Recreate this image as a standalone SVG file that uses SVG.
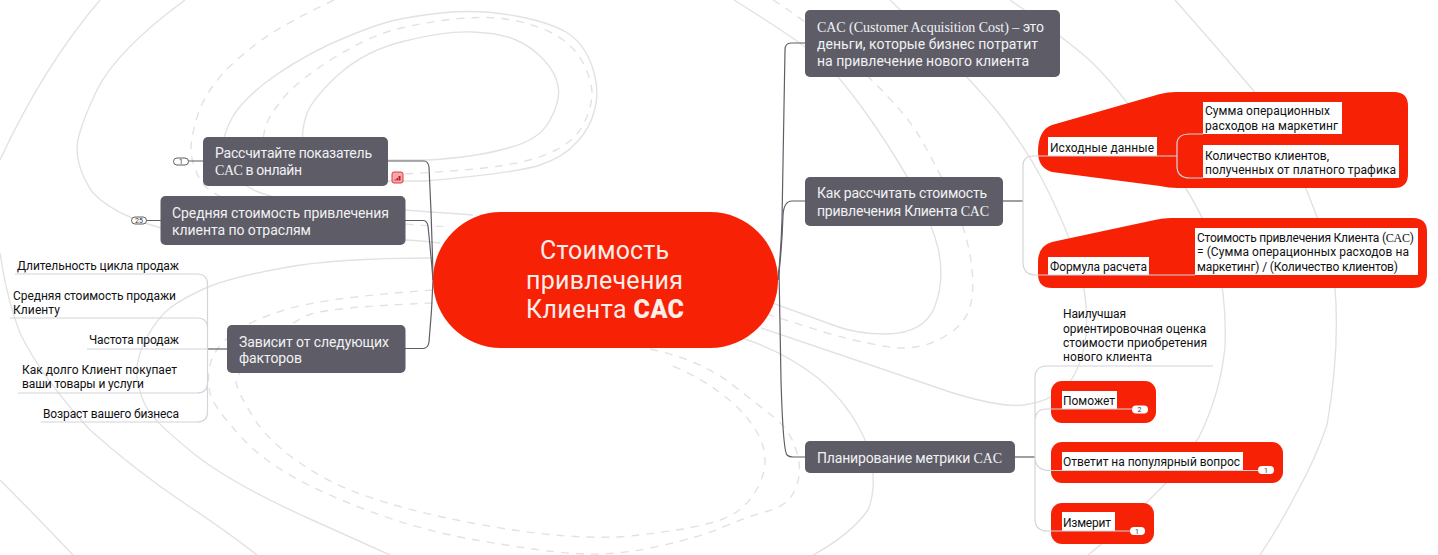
<svg xmlns="http://www.w3.org/2000/svg" width="1438" height="555" viewBox="0 0 1438 555">
<style>
text{font-family:Roboto,"Noto Sans",sans-serif}
.bg{fill:none;stroke:#e2e2e2;stroke-width:1.4}
.dash{stroke-dasharray:8 7}
.dark{fill:none;stroke:#5f5e67;stroke-width:1.2}
.light{fill:none;stroke:#d4d4dc;stroke-width:1.2}
.box{fill:#5e5d67}
.red{fill:#f72205}
.wt{fill:#fff}
.nt{font-size:14px;fill:#f1f1f3}
.lb{font-size:12px;fill:#111}
.lat{font-family:"Liberation Serif",serif}
.cnt{font-size:25px;fill:#fdeeea}
.bub{font-size:7px;fill:#333;text-anchor:middle}
.pill{fill:#fff}
.pillo{fill:#fff;stroke:#5f5e67;stroke-width:1}
</style>
<rect width="1438" height="555" fill="#fff"/>
<g id="background">
<path class="bg" d="M388,160 L428,160 Q477,157 508,148 Q540,140 550,120 Q561,100 558,86 Q556,73 544,60 Q532,47 516,40 Q500,33 472,32 Q445,31 405,41 Q366,50 338,75 Q311,100 306,116 Q301,133 303,146"/>
<path class="bg dash" d="M405,174 Q477,170 506,165 Q536,160 556,150 Q576,140 584,123 Q592,107 592,93 Q592,80 582,61 Q572,43 550,32 Q528,22 506,19 Q485,16 453,19 Q421,23 393,30 Q366,38 332,59 Q299,80 285,96 Q271,113 267,123 Q263,133 263,145"/>
<path class="bg" d="M388,181 L425,181 Q516,173 540,165 Q564,157 577,142 Q591,127 595,108 Q600,90 592,66 Q584,43 566,32 Q548,22 516,16 Q485,10 451,12 Q417,15 391,21 Q366,28 328,45 Q291,63 265,83 Q240,103 232,118 Q224,133 223,144 Q222,155 228,167 Q235,180 250,188 Q265,197 302,202 Q340,207 373,208 Q407,210 473,215"/>
<path class="bg dash" d="M334,0 Q300,16 275,31 Q250,47 228,68 Q207,90 199,111 Q192,133 191,146 Q190,160 200,180 Q215,205 300,216 Q370,222 450,227"/>
<path class="bg" d="M185,0 Q117,50 97,90 Q78,130 77,147 Q77,170 93,193 Q108,208 130,217 Q165,232 200,236 Q300,242 407,240 Q425,241 440,243"/>
<path class="bg" d="M100,0 Q43,67 0,160"/>
<path class="bg" d="M0,253 Q7,300 20,333 Q40,375 90,430 Q135,470 184,503 Q225,530 257,555"/>
<path class="bg" d="M0,480 Q35,515 73,555"/>
<path class="bg" d="M433,258 Q333,258 283,268 Q233,277 208,287 Q183,298 170,308 Q157,318 146,339 Q135,360 137,378 Q140,397 148,410 Q156,423 193,453 Q230,483 310,519 Q350,537 390,555"/>
<path class="bg dash" d="M433,290 Q333,297 291,308 Q250,320 231,335 Q213,350 210,365 Q207,380 210,393 Q213,407 244,440 Q275,473 344,501 Q413,530 482,541 Q551,553 585,554 Q620,555 660,546 Q700,537 723,527 Q747,517 768,511 Q790,505 796,487 Q803,470 796,450 Q790,430 775,418 Q761,407 730,383 Q700,360 650,349"/>
<path class="bg dash" d="M433,303 Q333,307 311,314 Q290,322 263,347 Q237,373 236,381 Q236,390 255,420 Q275,450 321,476 Q367,503 472,523 Q578,543 639,535 Q700,528 723,519 Q747,510 759,485 Q771,460 759,436 Q747,413 723,395 Q700,377 670,365"/>
<path class="bg" d="M734,0 Q803,43 823,61 Q843,80 873,123 Q903,167 918,197 Q933,227 938,248 Q945,280 935,306 Q925,333 887,334 Q855,334 833,325 L745,293"/>
<path class="bg dash" d="M773,0 Q805,20 837,48 Q870,77 891,100 Q913,123 926,148 Q940,173 952,200 Q965,227 970,255 Q975,283 971,303 Q967,323 947,335 Q927,348 902,348 Q877,347 827,333 L760,312"/>
<path class="bg" d="M890,0 Q970,77 1000,115 Q1030,153 1050,195 Q1070,237 1078,263 Q1089,300 1086,335 Q1081,373 1064,388 Q1048,402 1024,405 Q1001,408 950,392 Q900,375 761,328"/>
<path class="bg" d="M1010,0 Q1060,35 1086,57 Q1113,80 1160,148 Q1207,217 1216,253 Q1227,300 1225,347 Q1220,395 1199,437 Q1180,465 1166,483 Q1120,530 1088,555"/>
<path class="bg" d="M1175,0 Q1215,45 1253,90 Q1295,155 1317,217 Q1332,255 1335,288 Q1340,350 1327,425 Q1315,460 1297,492 Q1280,525 1260,555"/>
<path class="bg" d="M742,338 Q785,352 818,378 Q850,405 865,440 Q880,480 868,510 Q850,535 813,555"/>
</g>
<g id="connectors">
<path class="dark" d="M388,161 H424 Q428,161 429,167 Q432,225 433,280"/>
<path class="dark" d="M405,220.500 H423 Q427,220.500 428,226 Q431,255 433,280"/>
<path class="dark" d="M405,348.500 H423 Q428,348.500 429,342 Q432,310 433,280"/>
<path class="dark" d="M778,280 Q781,250 782,220 L785,50 Q785,43 791,43 H805"/>
<path class="dark" d="M778,280 Q782,250 783,215 Q784,201 792,201 H805"/>
<path class="dark" d="M779,270 L781,380 Q783,450 787,455 Q789,457 793,457 H805"/>
<path class="dark" d="M188,161 H203 M146,220.500 H161"/>
<path class="dark" d="M1003,201 H1023"/>
<path class="dark" d="M1015,457 H1035"/>
<path class="dark" d="M207,349 H227"/>
</g>
<g id="node-center">
<rect class="red" x="433" y="212" width="345" height="136" rx="68"/>
<text class="cnt" x="540" y="259" textLength="129">Стоимость</text>
<text class="cnt" x="526" y="289" textLength="157">привлечения</text>
<text class="cnt" x="526" y="318" textLength="158">Клиента <tspan font-weight="900">CAC</tspan></text>
</g>
<g id="node-online">
<rect class="box" x="203" y="137" width="185" height="49" rx="5"/>
<text class="nt" x="215" y="158" textLength="157">Рассчитайте показатель</text>
<text class="nt" x="215" y="175" textLength="87"><tspan class="lat">CAC</tspan> в онлайн</text>
<rect class="pillo" x="173.500" y="158" width="15" height="7" rx="3.500"/>
<text class="bub" x="181" y="164">1</text>
<rect x="392" y="172" width="11" height="11" rx="2" fill="#f6a9ad" stroke="#e0393f"/>
<path d="M394.500,179.500 h1.500 v1 h-1.500 z M396.500,178 h1.500 v2.500 h-1.500 z M398.500,176 h2 v4.500 h-2 z" fill="#b51c24"/>
</g>
<g id="node-industries">
<rect class="box" x="160.500" y="196" width="245" height="49" rx="5"/>
<text class="nt" x="172" y="218" textLength="217">Средняя стоимость привлечения</text>
<text class="nt" x="172" y="235" textLength="139">клиента по отраслям</text>
<rect class="pillo" x="131.500" y="217" width="15" height="7" rx="3.500"/>
<text class="bub" x="139" y="223">25</text>
</g>
<g id="node-factors">
<rect class="box" x="227" y="325" width="178.500" height="48" rx="5"/>
<text class="nt" x="239" y="347" textLength="150">Зависит от следующих</text>
<text class="nt" x="239" y="363" textLength="63">факторов</text>
</g>
<g id="factors-items">
<path class="light" d="M15,274 H197 Q207.500,274 207.500,284 V412 Q207.500,422 197,422 H41 M10,318 H197 Q207.500,318 207.500,328 M87,349 H207 M18,393 H197 Q207.500,393 207.500,383"/>
<text class="lb" x="17" y="270" textLength="162">Длительность цикла продаж</text>
<text class="lb" x="13" y="300" textLength="163">Средняя стоимость продажи</text>
<text class="lb" x="13" y="314" textLength="47">Клиенту</text>
<text class="lb" x="89" y="344" textLength="90">Частота продаж</text>
<text class="lb" x="22" y="374" textLength="155">Как долго Клиент покупает</text>
<text class="lb" x="22" y="388" textLength="122">ваши товары и услуги</text>
<text class="lb" x="43" y="418" textLength="136">Возраст вашего бизнеса</text>
</g>
<g id="node-definition">
<rect class="box" x="805" y="10" width="255" height="67" rx="5"/>
<text class="nt" x="817" y="32" textLength="227"><tspan class="lat">CAC (Customer Acquisition Cost) –</tspan> это</text>
<text class="nt" x="817" y="49" textLength="221">деньги, которые бизнес потратит</text>
<text class="nt" x="817" y="66" textLength="212">на привлечение нового клиента</text>
</g>
<g id="node-calc">
<rect class="box" x="805" y="177" width="198" height="49" rx="5"/>
<text class="nt" x="817" y="198" textLength="170">Как рассчитать стоимость</text>
<text class="nt" x="817" y="216" textLength="172">привлечения Клиента <tspan class="lat">CAC</tspan></text>
</g>
<g id="node-source">
<path class="red" d="M1038,152 Q1038,130 1052,125 L1160,94 Q1168,92 1176,92 H1394 Q1408,92 1408,106 V174 Q1408,188 1394,188 H1178 Q1168,188 1160,186 L1052,172 Q1038,168 1038,152 Z"/>
<rect class="wt" x="1048" y="137" width="109" height="19"/>
<rect class="wt" x="1203" y="102" width="139" height="32"/>
<rect class="wt" x="1203" y="145" width="196" height="33"/>
<path class="light" d="M1023,201 V166 Q1023,156 1033,156 H1177 M1177,156 V144 Q1177,134 1190,134 H1203 M1177,156 V166 Q1177,178 1190,178 H1203"/>
<text class="lb" x="1050" y="152" textLength="104">Исходные данные</text>
<text class="lb" x="1205" y="115" textLength="125">Сумма операционных</text>
<text class="lb" x="1205" y="130" textLength="133">расходов на маркетинг</text>
<text class="lb" x="1205" y="160" textLength="124">Количество клиентов,</text>
<text class="lb" x="1205" y="174" textLength="191">полученных от платного трафика</text>
</g>
<g id="node-formula">
<path class="red" d="M1038,262 Q1038,246 1052,242 L1150,221 Q1162,218 1172,218 H1413 Q1427,218 1427,232 V274 Q1427,288 1413,288 H1052 Q1038,288 1038,274 Z"/>
<rect class="wt" x="1048" y="257" width="101" height="18"/>
<rect class="wt" x="1195" y="228" width="223" height="47"/>
<path class="light" d="M1023,201 V262 Q1023,275 1036,275 H1195"/>
<text class="lb" x="1050" y="271" textLength="97">Формула расчета</text>
<text class="lb" x="1197" y="242" textLength="217">Стоимость привлечения Клиента (<tspan class="lat">CAC</tspan>)</text>
<text class="lb" x="1197" y="256" textLength="212">= (Сумма операционных расходов на</text>
<text class="lb" x="1197" y="271" textLength="201">маркетинг) / (Количество клиентов)</text>
</g>
<g id="node-planning">
<rect class="box" x="805" y="441" width="210" height="32" rx="5"/>
<text class="nt" x="817" y="463" textLength="185">Планирование метрики <tspan class="lat">CAC</tspan></text>
</g>
<g id="planning-items">
<rect class="red" x="1051" y="381" width="105" height="42" rx="11"/>
<rect class="red" x="1051" y="442" width="232" height="41" rx="11"/>
<rect class="red" x="1051" y="503" width="103" height="41" rx="11"/>
<rect class="wt" x="1062" y="391" width="55" height="18"/>
<rect class="wt" x="1062" y="452" width="181" height="18"/>
<rect class="wt" x="1062" y="512" width="53" height="19"/>
<path class="light" d="M1035,457 V378 Q1035,366 1047,366 H1213 M1035,421 Q1035,409 1047,409 H1132 M1035,457 Q1035,470.500 1050,470.500 H1258 M1035,457 V519 Q1035,531 1048,531 H1130"/>
<text class="lb" x="1063" y="318" textLength="63">Наилучшая</text>
<text class="lb" x="1063" y="333" textLength="143">ориентировочная оценка</text>
<text class="lb" x="1063" y="347" textLength="144">стоимости приобретения</text>
<text class="lb" x="1063" y="361" textLength="89">нового клиента</text>
<text class="lb" x="1063" y="405" textLength="52">Поможет</text>
<text class="lb" x="1063" y="466" textLength="177">Ответит на популярный вопрос</text>
<text class="lb" x="1063" y="527" textLength="48">Измерит</text>
<rect class="pill" x="1132" y="405.500" width="16" height="8" rx="4"/>
<text class="bub" x="1139.500" y="412">2</text>
<rect class="pill" x="1258" y="466" width="16" height="8" rx="4"/>
<text class="bub" x="1266" y="472.500">1</text>
<rect class="pill" x="1130" y="527" width="15" height="8" rx="4"/>
<text class="bub" x="1137" y="533.500">1</text>
</g>
</svg>
